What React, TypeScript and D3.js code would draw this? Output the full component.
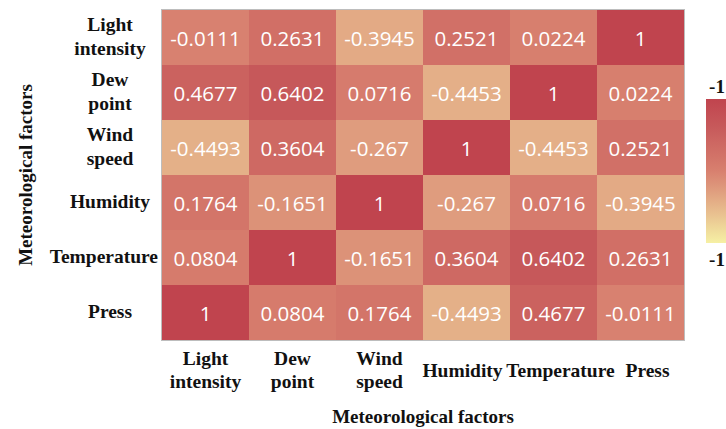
import React, { useEffect, useRef } from "react";
import * as d3 from "d3";

const factors = ["Light intensity", "Dew point", "Wind speed", "Humidity", "Temperature", "Press"];
const rowLabels = [["Light", "intensity"], ["Dew", "point"], ["Wind", "speed"], ["Humidity"], ["Temperature"], ["Press"]];
const colLabels = [["Light", "intensity"], ["Dew", "point"], ["Wind", "speed"], ["Humidity"], ["Temperature"], ["Press"]];

// rows top to bottom, columns left to right
const lightRow = [-0.0111, 0.2631, -0.3945, 0.2521, 0.0224, 1];
const dewRow = [0.4677, 0.6402, 0.0716, -0.4453, 1, 0.0224];
const windRow = [-0.4493, 0.3604, -0.267, 1, -0.4453, 0.2521];
const humidityRow = [0.1764, -0.1651, 1, -0.267, 0.0716, -0.3945];
const temperatureRow = [0.0804, 1, -0.1651, 0.3604, 0.6402, 0.2631];
const pressRow = [1, 0.0804, 0.1764, -0.4493, 0.4677, -0.0111];
const rows = [lightRow, dewRow, windRow, humidityRow, temperatureRow, pressRow];

const legendLabels = ["-1", "-1"];

// small nudges so long x labels don't run into each other
const colLabelShift = [0, 0, 0, -4, 7, 7];

const App = () => {
    const ref = useRef<SVGSVGElement>(null);

    useEffect(() => {
        const width = 726;
        const height = 429;
        const margin = { top: 10, right: 42, bottom: 89, left: 162 };
        const serif = "'Liberation Serif', 'Times New Roman', serif";
        const labelSize = "19.5px";

        const svg = d3.select(ref.current);
        svg.selectAll("*").remove();

        const x = d3.scaleBand<number>()
            .domain(d3.range(factors.length))
            .range([margin.left, width - margin.right]);
        const y = d3.scaleBand<number>()
            .domain(d3.range(factors.length))
            .range([margin.top, height - margin.bottom]);

        const color = d3.scaleLinear<string>()
            .domain([-1, -0.45, 0, 0.6, 1])
            .range(["#f6f0a4", "#e4b088", "#d8806f", "#c75a5b", "#c0444e"])
            .clamp(true);

        const cells = rows.flatMap((r, i) => r.map((v, j) => ({ i, j, v })));

        svg.append("g")
            .selectAll("rect")
            .data(cells)
            .enter()
            .append("rect")
            .attr("x", d => x(d.j)!)
            .attr("y", d => y(d.i)!)
            .attr("width", x.bandwidth())
            .attr("height", y.bandwidth())
            .attr("fill", d => color(d.v));

        svg.append("rect")
            .attr("x", margin.left - 0.5)
            .attr("y", margin.top - 0.5)
            .attr("width", width - margin.right - margin.left + 1)
            .attr("height", height - margin.bottom - margin.top + 1)
            .attr("fill", "none")
            .attr("stroke", "#bdbdbd")
            .attr("stroke-width", 1);

        svg.append("g")
            .selectAll("text")
            .data(cells)
            .enter()
            .append("text")
            .attr("x", d => x(d.j)! + x.bandwidth() / 2)
            .attr("y", d => y(d.i)! + y.bandwidth() / 2)
            .attr("text-anchor", "middle")
            .attr("dominant-baseline", "central")
            .attr("fill", "#ffffff")
            .style("font-family", "'Open Sans', 'Noto Sans', sans-serif")
            .style("font-size", "20.5px")
            .text(d => String(d.v));

        // y axis labels
        const yl = svg.append("g").style("font-family", serif).style("font-size", labelSize).style("font-weight", "bold");
        rowLabels.forEach((lines, i) => {
            const cy = y(i)! + y.bandwidth() / 2;
            lines.forEach((line, k) => {
                const t = yl.append("text")
                    .attr("x", 110)
                    .attr("y", cy - 1 + (k - (lines.length - 1) / 2) * 24)
                    .attr("text-anchor", "middle")
                    .attr("dominant-baseline", "central")
                    .attr("fill", "#111")
                    .text(line);
                const w = (t.node() as SVGTextElement).getComputedTextLength();
                if (110 + w / 2 > margin.left - 4) t.attr("x", margin.left - 4 - w / 2);
            });
        });

        // x axis labels
        const xl = svg.append("g").style("font-family", serif).style("font-size", labelSize).style("font-weight", "bold");
        colLabels.forEach((lines, j) => {
            const cx = x(j)! + x.bandwidth() / 2 + colLabelShift[j];
            lines.forEach((line, k) => {
                xl.append("text")
                    .attr("x", cx)
                    .attr("y", 370 + (k - (lines.length - 1) / 2) * 23)
                    .attr("text-anchor", "middle")
                    .attr("dominant-baseline", "central")
                    .attr("fill", "#111")
                    .text(line);
            });
        });

        svg.append("text")
            .attr("x", (margin.left + width - margin.right) / 2)
            .attr("y", 416)
            .attr("text-anchor", "middle")
            .attr("dominant-baseline", "central")
            .style("font-family", serif)
            .style("font-size", "19px")
            .style("font-weight", "bold")
            .attr("fill", "#111")
            .text("Meteorological factors");

        svg.append("text")
            .attr("transform", `translate(25,${(margin.top + height - margin.bottom) / 2}) rotate(-90)`)
            .attr("text-anchor", "middle")
            .attr("dominant-baseline", "central")
            .style("font-family", serif)
            .style("font-size", "19px")
            .style("font-weight", "bold")
            .attr("fill", "#111")
            .text("Meteorological factors");

        // legend
        const lg = svg.append("defs").append("linearGradient")
            .attr("id", "lg")
            .attr("x1", 0).attr("x2", 0).attr("y1", 0).attr("y2", 1);
        const stops = d3.range(0, 1.001, 0.1);
        lg.selectAll("stop")
            .data(stops)
            .enter()
            .append("stop")
            .attr("offset", d => d)
            .attr("stop-color", d => color(1 - 2 * d));

        const ly = d3.scaleLinear().domain([1, -1]).range([99, 243]);
        svg.append("rect")
            .attr("x", 706)
            .attr("y", ly(1))
            .attr("width", 24)
            .attr("height", ly(-1) - ly(1))
            .attr("fill", "url(#lg)");

        svg.append("g")
            .selectAll("text")
            .data(legendLabels)
            .enter()
            .append("text")
            .attr("x", 717)
            .attr("y", (d, i) => (i === 0 ? ly(1) - 13 : ly(-1) + 16))
            .attr("text-anchor", "middle")
            .attr("dominant-baseline", "central")
            .style("font-family", serif)
            .style("font-size", "19px")
            .style("font-weight", "bold")
            .attr("fill", "#111")
            .text(d => d);
    }, []);

    return (
        <svg
            ref={ref}
            width={726}
            height={429}
            style={{ position: "absolute", left: 0, top: 0, background: "#fff" }}
        />
    );
};

export default App;
